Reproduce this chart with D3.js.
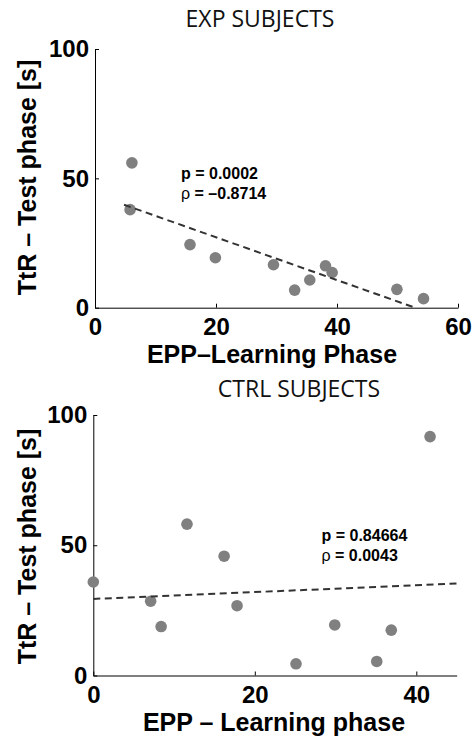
<!DOCTYPE html>
<html lang="en">

<head>
  <meta charset="UTF-8" />
  <title>EXP / CTRL subjects</title>
  <script src="https://cdn.jsdelivr.net/npm/d3@7"></script>
  <style>
    body { margin: 0; background: #fff; }
    .tick text { font-family: "Liberation Sans", Arial, sans-serif; font-weight: bold; font-size: 24px; fill: #000; }
    .axis path, .axis line { stroke: #000; stroke-width: 1; }
    .lab { font-family: "Liberation Sans", Arial, sans-serif; font-weight: bold; font-size: 25px; fill: #000; }
    .ttl { font-family: "Open Sans", sans-serif; font-size: 23px; fill: #111; }
    .ann { font-family: "Liberation Sans", Arial, sans-serif; font-weight: bold; font-size: 16px; fill: #000; }
  </style>
</head>

<body>
  <script>
    // values
    var expEpp = [6.1, 5.8, 15.7, 19.9, 29.5, 33.0, 35.5, 38.1, 39.2, 49.9, 54.3];
    var expTtr = [56.0, 37.9, 24.4, 19.3, 16.6, 6.8, 10.7, 16.2, 13.6, 7.1, 3.5];
    var expFitX = [4.8, 52.9];
    var expFitY = [39.8, 0];

    var ctrlEpp = [0, 7.1, 8.4, 11.6, 16.2, 17.8, 25.1, 29.9, 35.1, 36.9, 41.7];
    var ctrlTtr = [35.9, 28.5, 18.8, 58.1, 45.8, 26.8, 4.5, 19.4, 5.4, 17.4, 91.7];
    var ctrlFitX = [0, 45];
    var ctrlFitY = [29.4, 35.3];

    var yTicks = [0, 50, 100];
    var expXTicks = [0, 20, 40, 60];
    var ctrlXTicks = [0, 20, 40];

    var w = 475;
    var h = 736;

    var svg = d3.select("body").append("svg")
      .attr("width", w)
      .attr("height", h);

    function drawPanel(p) {
      var x = d3.scaleLinear().domain(p.xDomain).range([p.left, p.right]);
      var y = d3.scaleLinear().domain([0, 100]).range([p.bottom, p.top]);
      var g = svg.append("g");

      g.append("g")
        .attr("class", "axis")
        .attr("transform", "translate(0," + p.bottom + ")")
        .call(d3.axisBottom(x).tickValues(p.xTicks).tickSize(-4).tickSizeOuter(0).tickPadding(10));

      g.append("g")
        .attr("class", "axis")
        .attr("transform", "translate(" + p.left + ",0)")
        .call(d3.axisLeft(y).tickValues(yTicks).tickSize(-4).tickSizeOuter(0).tickPadding(6));

      // points
      g.selectAll("circle")
        .data(p.xs)
        .enter()
        .append("circle")
        .attr("cx", function(d) { return x(d); })
        .attr("cy", function(d, i) { return y(p.ys[i]); })
        .attr("r", 5.8)
        .style("fill", "#808080");

      // fit line
      var line = d3.line()
        .x(function(d) { return x(d); })
        .y(function(d, i) { return y(p.fitY[i]); });
      g.append("path")
        .attr("d", line(p.fitX))
        .style("fill", "none")
        .style("stroke", "#333")
        .style("stroke-width", 2)
        .style("stroke-dasharray", "7,4.5");

      g.append("text")
        .attr("class", "ttl")
        .attr("x", p.titleX)
        .attr("y", p.titleY)
        .attr("text-anchor", "middle")
        .text(p.title);

      g.append("text")
        .attr("class", "lab")
        .attr("x", p.xLabX)
        .attr("y", p.xLabY)
        .attr("text-anchor", "middle")
        .text(p.xLabel);

      g.append("text")
        .attr("class", "lab")
        .attr("text-anchor", "middle")
        .attr("transform", "translate(36," + p.yLabY + ") rotate(-90)")
        .text("TtR \u2013 Test phase [s]");

      g.append("text").attr("class", "ann")
        .attr("x", p.annX).attr("y", p.annY)
        .text(p.pText);
      var a2 = g.append("text").attr("class", "ann")
        .attr("x", p.annX).attr("y", p.annY + 20);
      a2.append("tspan").style("font-weight", "normal").text("\u03C1");
      a2.append("tspan").text(p.rhoText);
    }

    drawPanel({
      xs: expEpp, ys: expTtr, fitX: expFitX, fitY: expFitY,
      xDomain: [0, 60], xTicks: expXTicks,
      left: 95, right: 458, top: 49, bottom: 307.7,
      title: "EXP SUBJECTS", titleX: 260, titleY: 26.5,
      xLabel: "EPP\u2013Learning Phase", xLabX: 272, xLabY: 363,
      yLabY: 177.5,
      annX: 181, annY: 179, pText: "p = 0.0002", rhoText: " = \u20130.8714"
    });

    drawPanel({
      xs: ctrlEpp, ys: ctrlTtr, fitX: ctrlFitX, fitY: ctrlFitY,
      xDomain: [0, 45], xTicks: ctrlXTicks,
      left: 93.3, right: 456.7, top: 415, bottom: 675.5,
      title: "CTRL SUBJECTS", titleX: 299, titleY: 396.5,
      xLabel: "EPP \u2013 Learning phase", xLabX: 274, xLabY: 730.5,
      yLabY: 546.5,
      annX: 321.5, annY: 540.5, pText: "p = 0.84664", rhoText: " = 0.0043"
    });
  </script>
</body>

</html>
